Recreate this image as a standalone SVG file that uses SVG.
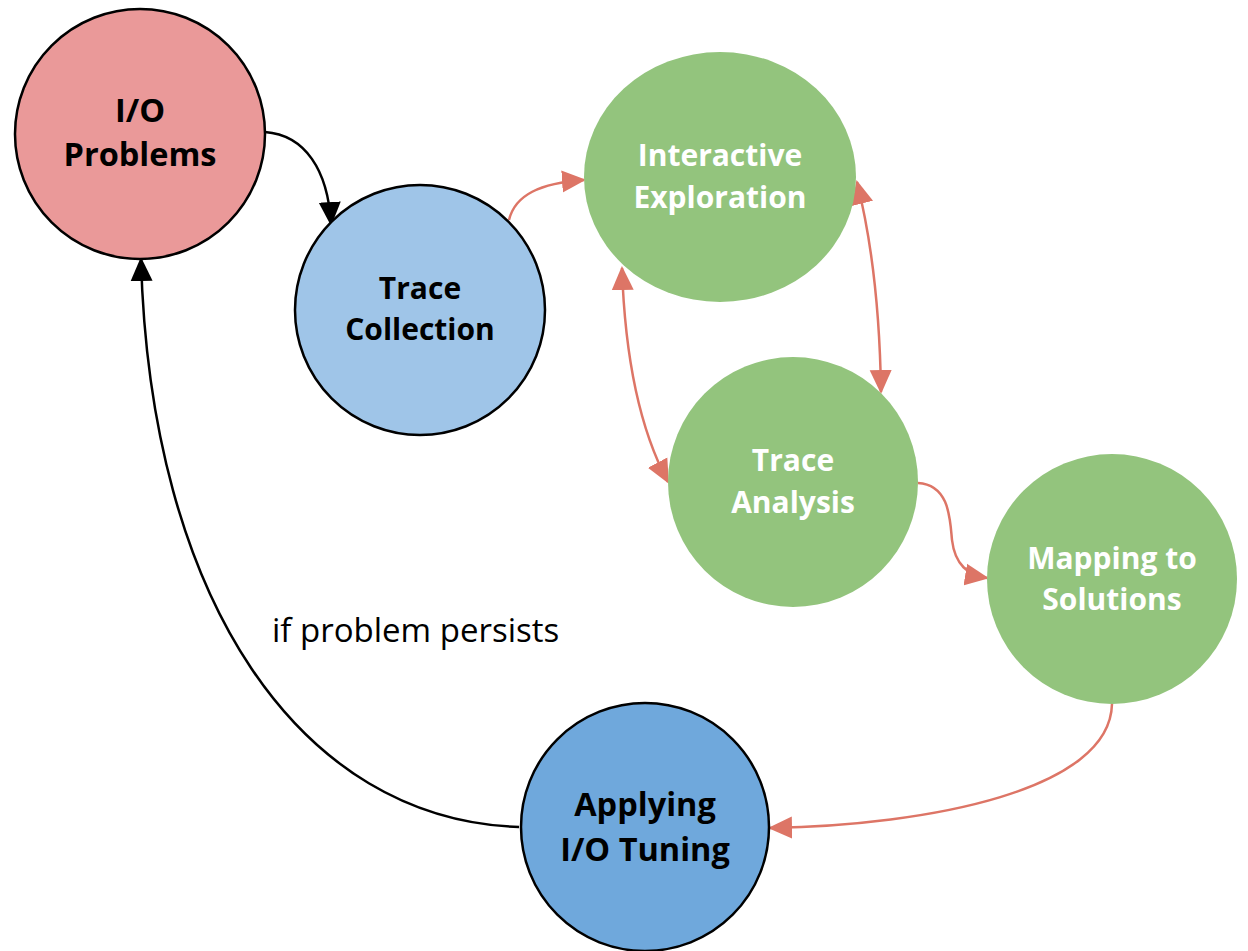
<svg xmlns="http://www.w3.org/2000/svg" width="1248" height="951" viewBox="0 0 1248 951">
<defs>
<style>
.n{stroke:#000;stroke-width:2.5}
.g{fill:#93C47D}
.t{font-family:"Open Sans","Noto Sans",sans-serif;font-weight:bold;font-size:30px;text-anchor:middle}
.big{font-size:32.5px}
.w{fill:#fff}
.k{fill:#000}
.c{fill:none;stroke-width:2.5}
.r{stroke:#DD7566}
.b{stroke:#000}
.lbl{font-family:"Open Sans","Noto Sans",sans-serif;font-size:33px;fill:#000}
</style>
<marker id="ar" markerUnits="userSpaceOnUse" markerWidth="24" markerHeight="24" viewBox="0 0 24 24" refX="22" refY="12" orient="auto-start-reverse"><path d="M0,1 L24,12 L0,23 Z" fill="#DD7566"/></marker>
<marker id="ab" markerUnits="userSpaceOnUse" markerWidth="24" markerHeight="24" viewBox="0 0 24 24" refX="22" refY="12" orient="auto-start-reverse"><path d="M0,1 L24,12 L0,23 Z" fill="#000"/></marker>
</defs>
<g id="connectors">
<path class="c b" d="M265,132 C305,135 328,170 331,224" marker-end="url(#ab)"/>
<path class="c r" d="M509,220 C515,195 540,183 584,180" marker-end="url(#ar)"/>
<path class="c r" d="M857,182 C874,250 880,320 881,392" marker-start="url(#ar)" marker-end="url(#ar)"/>
<path class="c r" d="M622,268 C625,360 640,430 668,482" marker-start="url(#ar)" marker-end="url(#ar)"/>
<path class="c r" d="M918,483 C950,485 950,520 952,540 C955,565 968,575 987,578" marker-end="url(#ar)"/>
<path class="c r" d="M1112,704 C1110,790 930,825 770,828" marker-end="url(#ar)"/>
<path class="c b" d="M519,827 C300,820 150,600 141,259" marker-end="url(#ab)"/>
<text class="lbl" x="272" y="642">if problem persists</text>
</g>
<g id="io-problems">
<circle class="n" cx="140" cy="134" r="125" fill="#EA9999"/>
<text class="t big k" x="140" y="122">I/O</text>
<text class="t big k" x="140" y="166">Problems</text>
</g>
<g id="trace-collection">
<circle class="n" cx="420" cy="310" r="125" fill="#9FC5E8"/>
<text class="t k" x="420" y="299">Trace</text>
<text class="t k" x="420" y="340">Collection</text>
</g>
<g id="interactive-exploration">
<ellipse class="g" cx="720" cy="177" rx="136" ry="125"/>
<text class="t w" x="720" y="166">Interactive</text>
<text class="t w" x="720" y="208">Exploration</text>
</g>
<g id="trace-analysis">
<circle class="g" cx="793" cy="482" r="125"/>
<text class="t w" x="793" y="471">Trace</text>
<text class="t w" x="793" y="513">Analysis</text>
</g>
<g id="mapping-solutions">
<circle class="g" cx="1112" cy="579" r="125"/>
<text class="t w" x="1112" y="569">Mapping to</text>
<text class="t w" x="1112" y="610">Solutions</text>
</g>
<g id="applying-tuning">
<circle class="n" cx="645" cy="827" r="124" fill="#6FA8DC"/>
<text class="t big k" x="645" y="816">Applying</text>
<text class="t big k" x="645" y="861">I/O Tuning</text>
</g>
</svg>
